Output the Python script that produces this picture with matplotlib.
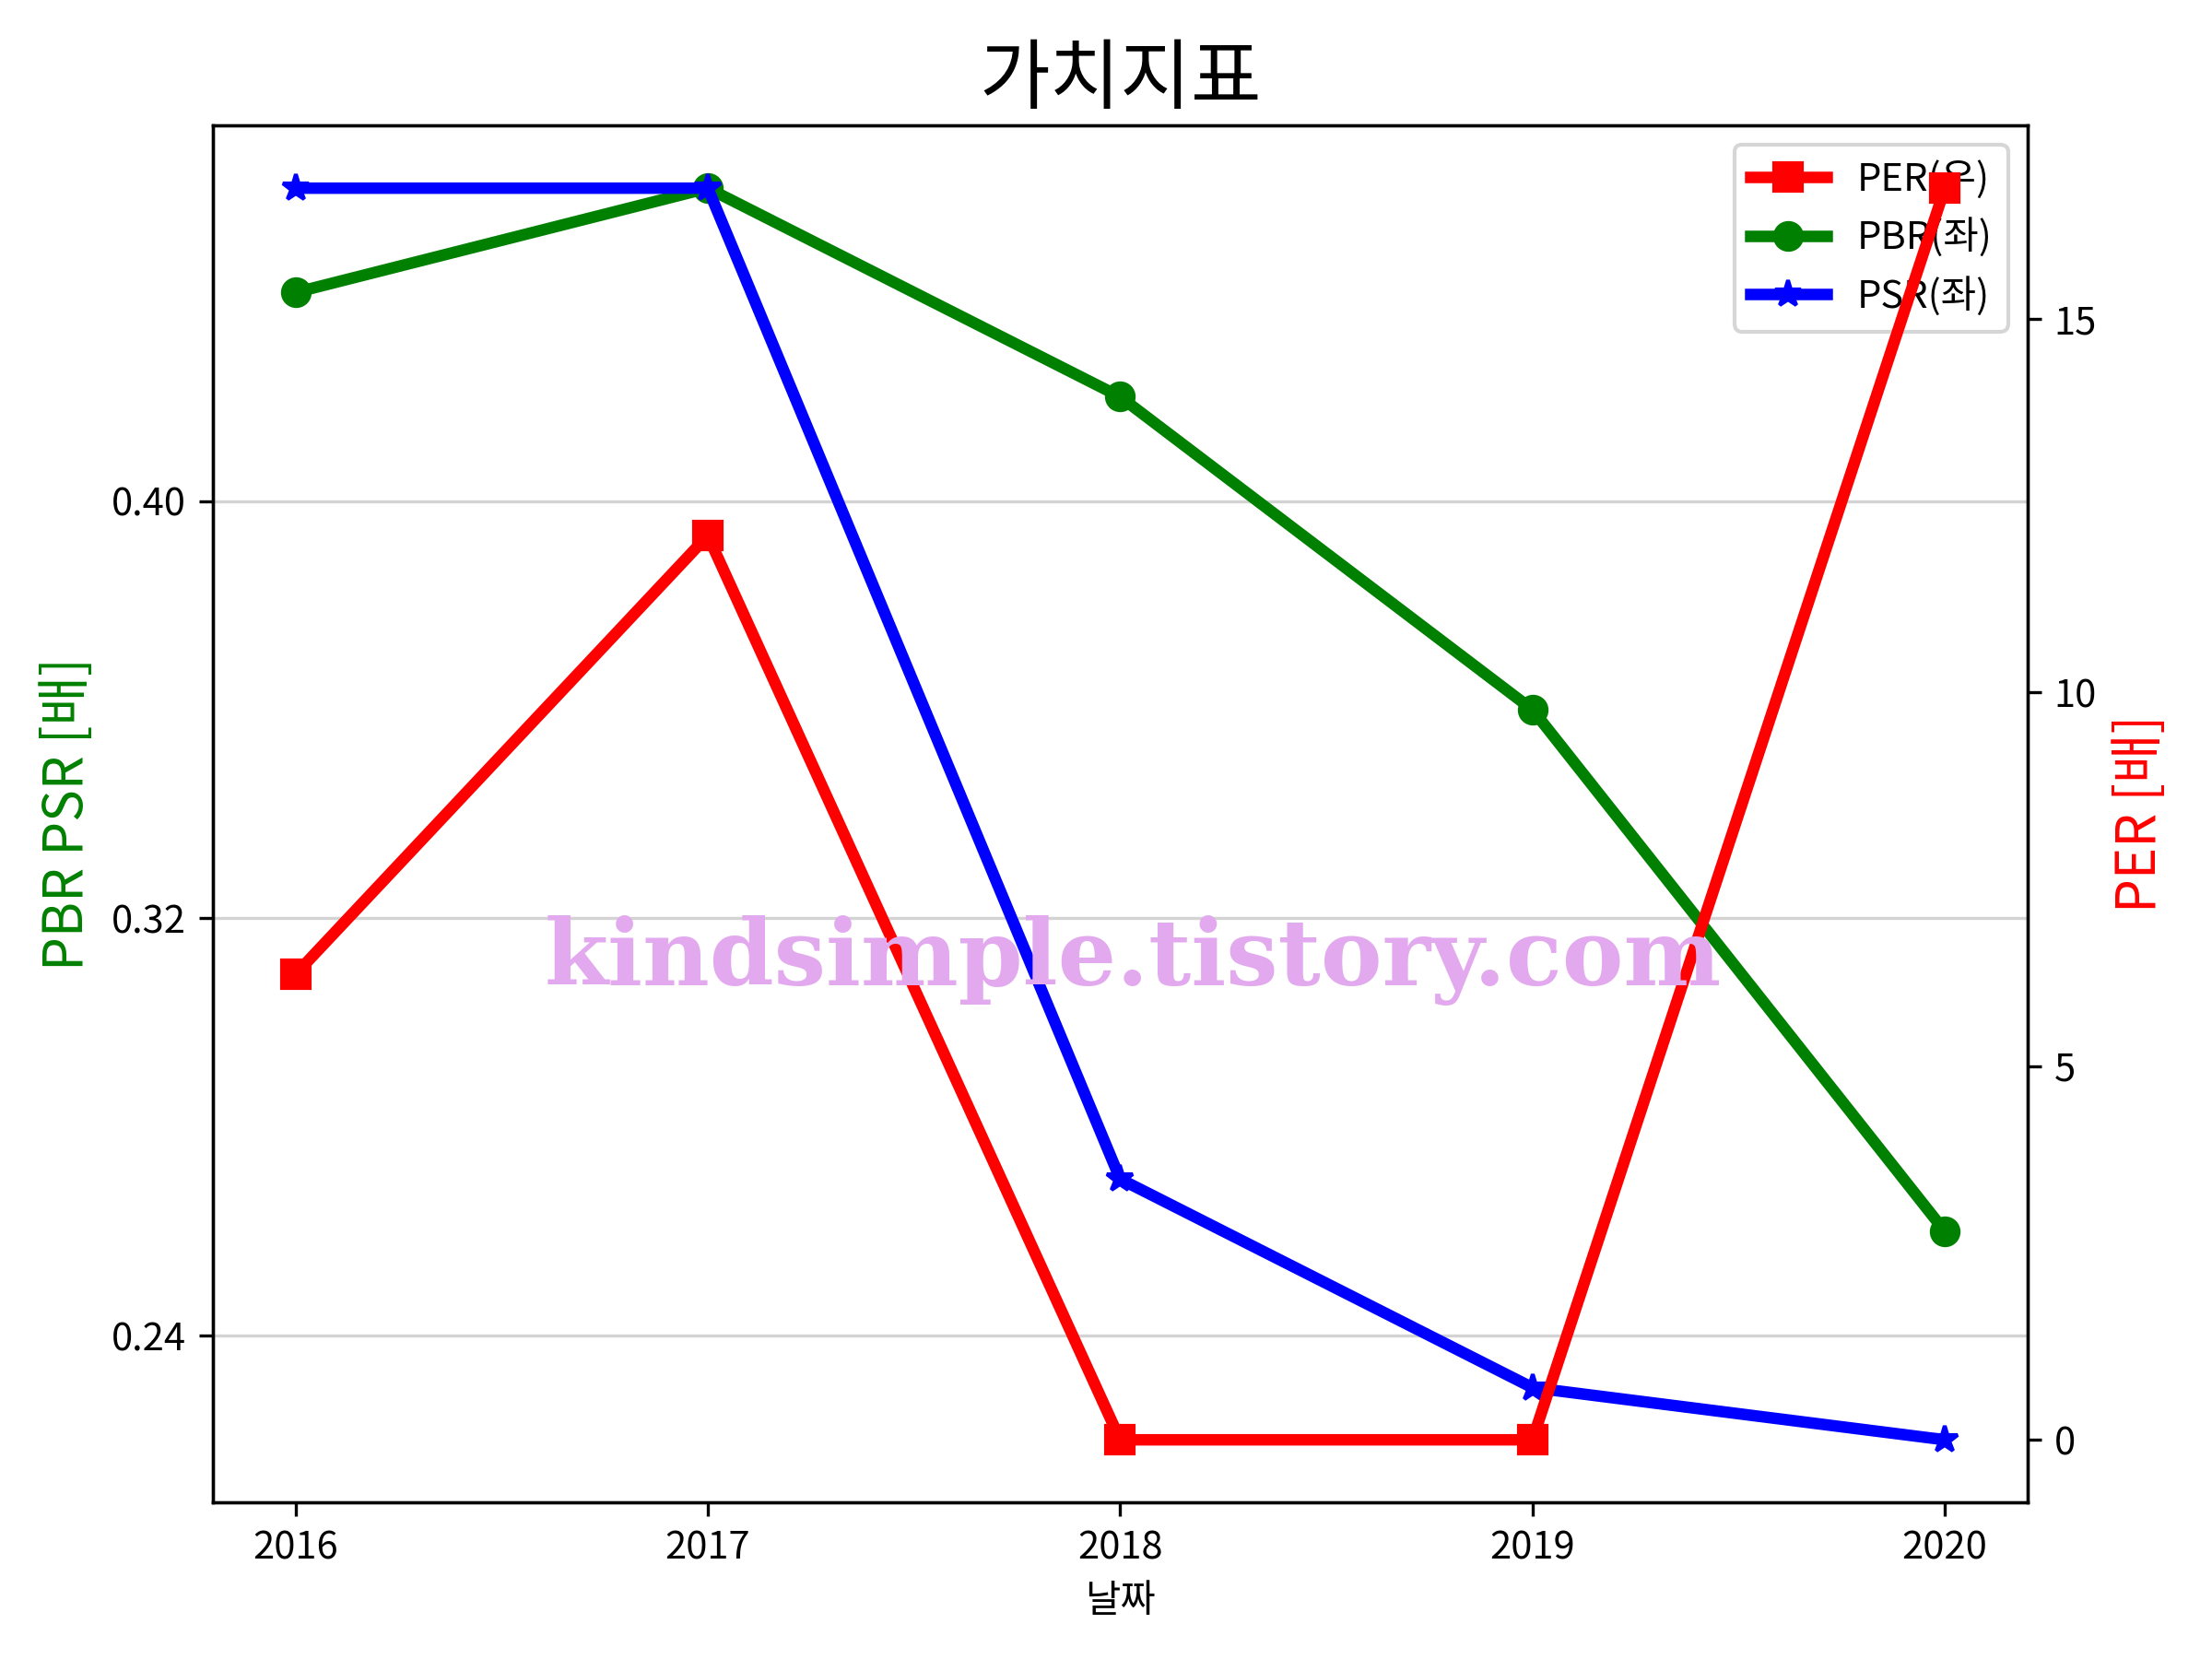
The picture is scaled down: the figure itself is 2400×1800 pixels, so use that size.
import matplotlib
matplotlib.use('Agg')

from matplotlib import pyplot as plt

plt.rcParams['font.family'] = ['Noto Sans CJK KR', 'DejaVu Sans']
plt.rcParams['axes.unicode_minus'] = False

years = ['2016', '2017', '2018', '2019', '2020']
per = [6.23, 12.1, 0.0, 0.0, 16.75]
pbr = [0.44, 0.46, 0.42, 0.36, 0.26]
psr = [0.46, 0.46, 0.27, 0.23, 0.22]
left_ticks = [0.24, 0.32, 0.40]
right_ticks = [0, 5, 10, 15]


def main():
    fig, ax1 = plt.subplots(figsize=(8, 6), dpi=300)
    fig.subplots_adjust(left=0.0963, right=0.9165, top=0.9243, bottom=0.0944)

    ax2 = ax1.twinx()

    l2, = ax1.plot(years, pbr, color='green', marker='o', linewidth=3, markersize=7, label='PBR(좌)')
    l3, = ax1.plot(years, psr, color='blue', marker='*', linewidth=3, markersize=7, label='PSR(좌)')
    l1, = ax2.plot(years, per, color='red', marker='s', linewidth=3, markersize=7, label='PER(우)')

    ax1.set_yticks(left_ticks)
    ax2.set_yticks(right_ticks)
    ax1.grid(axis='y', color='#d3d3d3', linewidth=0.8)
    ax1.set_axisbelow(True)

    ax1.set_xlabel('날짜', fontsize=10)
    ax1.set_ylabel('PBR PSR [배]', color='green', fontsize=14)
    ax2.set_ylabel('PER [배]', color='red', fontsize=14)
    ax1.set_title('가치지표', fontsize=20)

    ax1.legend(handles=[l1, l2, l3], loc='upper right', fontsize=10)

    fig.text(0.512, 0.421, 'kindsimple.tistory.com', fontsize=24, fontweight='bold',
             family='DejaVu Serif', color='#E3A9EE', ha='center', va='center', zorder=10)

    plt.savefig('out.png', dpi=300)
    plt.close()


main()
